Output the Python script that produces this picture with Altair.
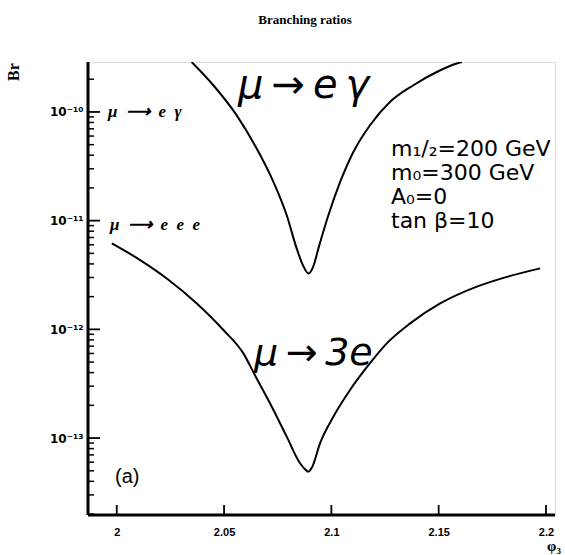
import altair as alt
import pandas as pd

# ---- data ----
phi_meg = [2.0349, 2.0450, 2.0559, 2.0652, 2.0730, 2.0792, 2.0839, 2.0870, 2.0893,
           2.0916, 2.0939, 2.0986, 2.1041, 2.1103, 2.1180, 2.1274, 2.1382, 2.1491,
           2.1584, 2.1609]
br_meg = [2.88e-10, 1.76e-10, 9.3e-11, 4.6e-11, 2.27e-11, 1.12e-11, 5.5e-12, 3.8e-12, 3.27e-12,
          3.8e-12, 5.5e-12, 1.12e-11, 2.27e-11, 4.3e-11, 7.55e-11, 1.24e-10, 1.76e-10, 2.33e-10,
          2.79e-10, 2.88e-10]

phi_m3e = [1.9977, 2.0109, 2.0233, 2.0373, 2.0497, 2.0590, 2.0644, 2.0714, 2.0792, 2.0854,
           2.0876, 2.0893, 2.0910, 2.0947, 2.1009, 2.1087, 2.1180, 2.1258, 2.1367, 2.1507,
           2.1678, 2.1818, 2.1973]
br_m3e = [6.17e-12, 4.34e-12, 2.94e-12, 1.73e-12, 9.86e-13, 6.01e-13, 3.79e-13, 2.09e-13,
          1.03e-13, 5.86e-14, 5.2e-14, 4.91e-14, 5.4e-14, 8.95e-14, 1.57e-13, 2.77e-13, 4.88e-13,
          7.43e-13, 1.135e-12, 1.73e-12, 2.47e-12, 3.04e-12, 3.64e-12]

x_ticks = [2.0, 2.05, 2.1, 2.15, 2.2]
y_decades = [1e-10, 1e-11, 1e-12, 1e-13]
y_minor = [m * 10.0 ** k for k in range(-14, -9) for m in range(2, 10)]

params = ["m\u2081/\u2082=200 GeV", "m\u2080=300 GeV", "A\u2080=0", "tan \u03b2=10"]

# ---- layout ----
W, H = 467, 453
XDOM = [1.9866, 2.2042]
YDOM = [1.96e-14, 2.88e-10]
y_minor = [v for v in y_minor if YDOM[0] < v < YDOM[1]]

xs = alt.Scale(domain=XDOM, nice=False, zero=False)
ys = alt.Scale(type="log", domain=YDOM, nice=False)

curves = pd.concat([
    pd.DataFrame({"phi": phi_meg, "br": br_meg, "series": "meg"}),
    pd.DataFrame({"phi": phi_m3e, "br": br_m3e, "series": "m3e"}),
])

ylabel = ("'10' + (round(log(datum.value)/LN10) == -10 ? '\u207b\u00b9\u2070' : "
          "round(log(datum.value)/LN10) == -11 ? '\u207b\u00b9\u00b9' : "
          "round(log(datum.value)/LN10) == -12 ? '\u207b\u00b9\u00b2' : '\u207b\u00b9\u00b3')")

lines = alt.Chart(curves).mark_line(
    color="black", strokeWidth=2, interpolate="monotone", clip=True
).encode(
    x=alt.X("phi:Q", scale=xs, title=None,
            axis=alt.Axis(values=x_ticks, format="~g", ticks=False, domain=False, grid=False,
                          labelPadding=11, labelFont="Liberation Sans", labelFontWeight="bold",
                          labelFontSize=11, labelColor="black")),
    y=alt.Y("br:Q", scale=ys, title=None,
            axis=alt.Axis(values=y_decades, labelExpr=ylabel, ticks=False, domain=False, grid=False,
                          labelPadding=5, labelFont="DejaVu Sans", labelFontWeight="bold",
                          labelFontSize=12, labelColor="black")),
    detail="series:N",
)

ymaj = alt.Chart(pd.DataFrame({"br": y_decades})).mark_rule(color="black", strokeWidth=1.8).encode(
    y=alt.Y("br:Q", scale=ys, title=None), x=alt.value(0), x2=alt.value(12))
ymin = alt.Chart(pd.DataFrame({"br": y_minor})).mark_rule(color="black", strokeWidth=1.5).encode(
    y=alt.Y("br:Q", scale=ys, title=None), x=alt.value(0), x2=alt.value(6))
xmaj = alt.Chart(pd.DataFrame({"phi": x_ticks})).mark_rule(color="black", strokeWidth=1.8).encode(
    x=alt.X("phi:Q", scale=xs, title=None), y=alt.value(H), y2=alt.value(H - 10))

left_edge = alt.Chart(pd.DataFrame({"a": [0]})).mark_rule(color="black", strokeWidth=3).encode(
    x=alt.value(0), y=alt.value(0), y2=alt.value(H))
bottom_edge = alt.Chart(pd.DataFrame({"a": [0]})).mark_rule(color="black", strokeWidth=3).encode(
    y=alt.value(H), x=alt.value(0), x2=alt.value(W))


def txt(s, x, y, size, font="Liberation Sans", weight="normal", style="normal",
        align="left", angle=0):
    return alt.Chart(pd.DataFrame({"t": [s]})).mark_text(
        fontSize=size, font=font, fontWeight=weight, fontStyle=style, align=align,
        baseline="middle", angle=angle, color="black"
    ).encode(text="t:N", x=alt.value(x), y=alt.value(y))


th = "\u2009"
en = "\u2002"
texts = [
    txt("Branching ratios", 217, -42, 13, font="Liberation Serif", weight="bold", align="center"),
    txt("Br", -74, 10, 16, font="Liberation Serif", weight="bold", align="center", angle=270),
    txt("\u03c6\u2083", 466, 484, 15, font="Liberation Serif", weight="bold", align="center"),
    txt("\u03bc" + en + "\u27f6" + en + "e" + en + "\u03b3", 20, 50, 17,
        font="Liberation Serif", weight="bold", style="italic"),
    txt("\u03bc" + en + "\u27f6" + en + "e" + en + "e" + en + "e", 22, 163, 17,
        font="Liberation Serif", weight="bold", style="italic"),
    txt("(a)", 27, 415, 20),
    txt("\u03bc" + th + "\u2192" + th + "e" + th + "\u03b3", 150, 24, 40, font="DejaVu Sans", style="italic"),
    txt("\u03bc" + th + "\u2192" + th + "3e", 166, 292, 38, font="DejaVu Sans", style="italic"),
]
for i, p in enumerate(params):
    texts.append(txt(p, 303, 87 + i * 24, 22, font="DejaVu Sans"))

chart = alt.layer(lines, ymaj, ymin, xmaj, left_edge, bottom_edge, *texts).properties(
    width=W, height=H,
    padding={"left": 88, "top": 62, "right": 10, "bottom": 40},
    autosize=alt.AutoSizeParams(type="none"),
).configure_view(stroke="black", strokeWidth=2).configure(background="white")

chart.save("out.html", embed_options={"renderer": "svg", "actions": False})
